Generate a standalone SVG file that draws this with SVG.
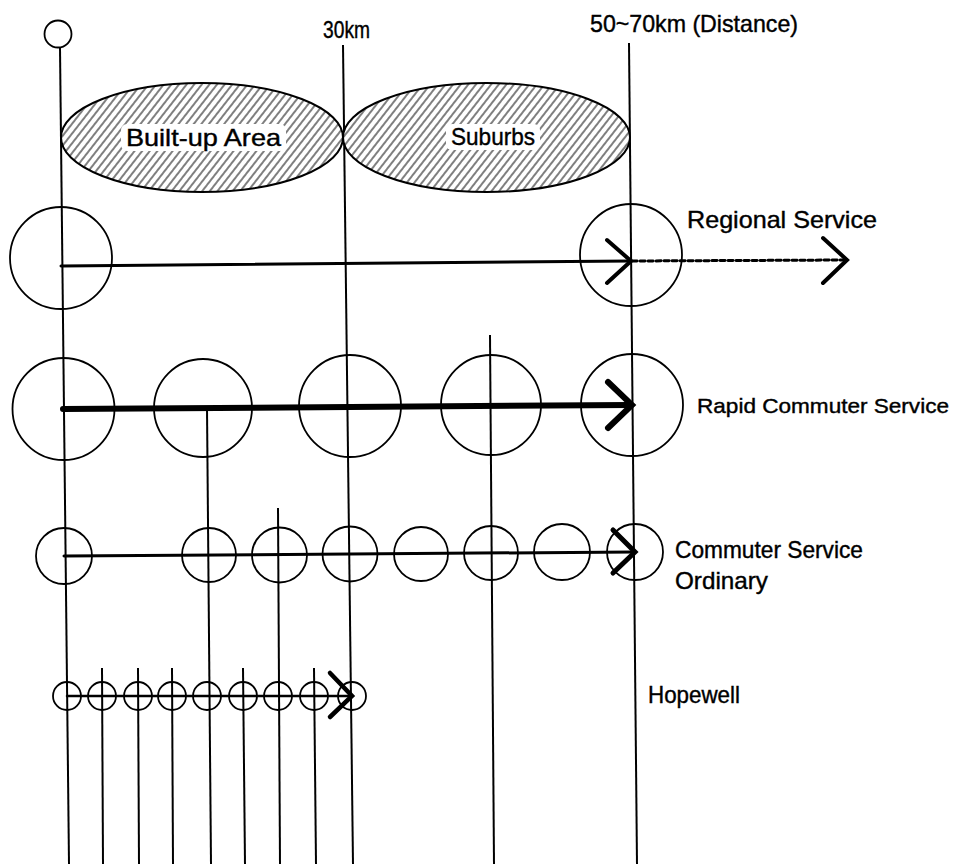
<svg xmlns="http://www.w3.org/2000/svg" width="961" height="864" viewBox="0 0 961 864">
<style>
.bg{fill:#fff}
.v{stroke:#000;stroke-width:2;fill:none}
.c{stroke:#000;stroke-width:1.8;fill:none}
.e{stroke:#000;stroke-width:2;fill:url(#hatch)}
.ln{stroke:#000;fill:none;stroke-linecap:round}
.chev{stroke:#000;fill:none;stroke-linecap:round;stroke-linejoin:miter}
.gap{fill:#fff}
text{font-family:"Liberation Sans","DejaVu Sans",Arial,sans-serif;font-size:24px;fill:#000;font-weight:normal;stroke:#000;stroke-width:0.4}
text.narrow{font-size:21px}
</style>
<defs>
<pattern id="hatch" patternUnits="userSpaceOnUse" width="6" height="10" patternTransform="rotate(38)">
<rect width="6" height="10" fill="#fff"/>
<line x1="1" y1="0" x2="1" y2="10" stroke="#000" stroke-width="1"/>
</pattern>
</defs>
<rect class="bg" width="961" height="864"/>

<g id="axis-lines">
<line class="v" x1="60" y1="48" x2="69" y2="864"/>
<line class="v" x1="343" y1="45" x2="353" y2="864"/>
<line class="v" x1="629" y1="43" x2="637" y2="864"/>
<line class="v" x1="207" y1="408" x2="211" y2="864"/>
<line class="v" x1="278" y1="508" x2="280" y2="864"/>
<line class="v" x1="490" y1="335" x2="494" y2="864"/>
<line class="v" x1="102" y1="668" x2="103" y2="864"/>
<line class="v" x1="138" y1="668" x2="139" y2="864"/>
<line class="v" x1="172" y1="668" x2="173" y2="864"/>
<line class="v" x1="243" y1="668" x2="245" y2="864"/>
<line class="v" x1="314" y1="668" x2="316" y2="864"/>
</g>

<g id="origin">
<circle class="c" cx="58" cy="34" r="13.5"/>
</g>

<g id="labels-top">
<text x="323" y="38" textLength="47" lengthAdjust="spacingAndGlyphs">30km</text>
<text x="590" y="32" textLength="208" lengthAdjust="spacingAndGlyphs">50~70km (Distance)</text>
</g>

<g id="built-up-area">
<ellipse class="e" cx="202" cy="137.5" rx="141" ry="54.5"/>
<rect class="gap" x="121" y="124" width="165" height="27" rx="6"/>
<text x="126" y="146" textLength="155" lengthAdjust="spacingAndGlyphs">Built-up Area</text>
</g>
<g id="suburbs">
<ellipse class="e" cx="486.5" cy="137.5" rx="143.5" ry="54.5"/>
<rect class="gap" x="446" y="124" width="94" height="26" rx="6"/>
<text x="451" y="145" textLength="84" lengthAdjust="spacingAndGlyphs">Suburbs</text>
</g>

<g id="regional-service">
<circle class="c" cx="61" cy="258" r="51"/>
<circle class="c" cx="631" cy="255" r="51"/>
<text x="687" y="228" textLength="190" lengthAdjust="spacingAndGlyphs">Regional Service</text>
</g>

<g id="rapid-commuter-service">
<circle class="c" cx="63.5" cy="409" r="51"/>
<circle class="c" cx="203" cy="408" r="49"/>
<circle class="c" cx="350" cy="406" r="51"/>
<circle class="c" cx="491" cy="405" r="50"/>
<circle class="c" cx="632" cy="405" r="51"/>
<text class="narrow" x="697" y="413" textLength="252" lengthAdjust="spacingAndGlyphs">Rapid Commuter Service</text>
</g>

<g id="commuter-service-ordinary">
<circle class="c" cx="64" cy="556" r="28"/>
<circle class="c" cx="209" cy="555" r="27"/>
<circle class="c" cx="279.5" cy="555" r="27.5"/>
<circle class="c" cx="350" cy="554" r="27.5"/>
<circle class="c" cx="421" cy="554" r="27"/>
<circle class="c" cx="491" cy="553" r="27"/>
<circle class="c" cx="562" cy="552" r="28"/>
<circle class="c" cx="635" cy="552" r="28"/>
<text x="675" y="558" textLength="188" lengthAdjust="spacingAndGlyphs">Commuter Service</text>
<text x="675" y="589" textLength="93" lengthAdjust="spacingAndGlyphs">Ordinary</text>
</g>

<g id="hopewell">
<circle class="c" cx="67" cy="696" r="14"/>
<circle class="c" cx="102" cy="696" r="14"/>
<circle class="c" cx="138" cy="696" r="14"/>
<circle class="c" cx="172" cy="696" r="14"/>
<circle class="c" cx="207" cy="696" r="14"/>
<circle class="c" cx="243" cy="696" r="14"/>
<circle class="c" cx="278" cy="696" r="14"/>
<circle class="c" cx="314" cy="696" r="14"/>
<circle class="c" cx="352" cy="696" r="14"/>
<text x="648" y="703" textLength="92" lengthAdjust="spacingAndGlyphs">Hopewell</text>
</g>

<g id="connectors">
<line class="ln" x1="61" y1="266" x2="631" y2="261" stroke-width="3"/>
<polyline class="chev" points="607,240 631,261 607,283" stroke-width="4"/>
<line class="ln" x1="632" y1="261" x2="845" y2="260" stroke-width="3" stroke-dasharray="5,3" stroke-linecap="butt"/>
<polyline class="chev" points="823,238 847,260 823,283" stroke-width="4"/>

<line class="ln" x1="63" y1="409" x2="630" y2="405" stroke-width="6"/>
<polyline class="chev" points="608,382 632,405 608,428" stroke-width="6"/>

<line class="ln" x1="64" y1="556" x2="634" y2="552" stroke-width="3"/>
<polyline class="chev" points="613,530 635,552 613,573" stroke-width="5"/>

<line class="ln" x1="67" y1="696" x2="350" y2="696" stroke-width="2.5"/>
<polyline class="chev" points="330,673 352,696 330,717" stroke-width="4.5"/>
</g>
</svg>
